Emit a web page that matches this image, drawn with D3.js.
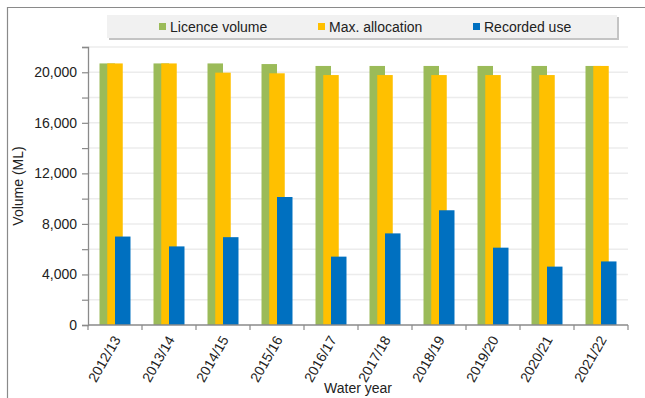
<!DOCTYPE html>
<html>
<head>
<meta charset="utf-8">
<script src="https://cdn.jsdelivr.net/npm/d3@7"></script>
<style>
    body { margin: 0; background: #fff; }
    text { font-family: "Liberation Sans", Arial, sans-serif; fill: #222; }
</style>
</head>
<body>
<svg id="chart"></svg>
<script>
// water years on the x axis
const years = ["2012/13", "2013/14", "2014/15", "2015/16", "2016/17",
    "2017/18", "2018/19", "2019/20", "2020/21", "2021/22"];

// volumes in ML
const licenceVolume = [20700, 20700, 20700, 20650, 20500, 20500, 20500, 20500, 20500, 20500];
const maxAllocation = [20700, 20700, 19970, 19920, 19780, 19780, 19780, 19780, 19780, 20500];
const recordedUse = [7000, 6220, 6950, 10130, 5410, 7250, 9080, 6120, 4620, 5030];

const seriesNames = ["Licence volume", "Max. allocation", "Recorded use"];
const seriesColors = ["#9bbb59", "#ffc000", "#0070c0"];
const yTicks = [0, 2000, 4000, 6000, 8000, 10000, 12000, 14000, 16000, 18000, 20000, 22000];

const W = 645, H = 398;
const margin = { top: 47, right: 17, bottom: 73, left: 88 };
const width = W - margin.left - margin.right;
const height = H - margin.top - margin.bottom;

const svg = d3.select("#chart")
    .attr("width", W)
    .attr("height", H);

// frame of the original picture (only top and left show)
svg.append("path")
    .attr("d", "M7.5," + H + "V7.5H" + W)
    .attr("fill", "none")
    .attr("stroke", "#8a8a8a")
    .attr("stroke-width", 1.2);

const g = svg.append("g")
    .attr("transform", "translate(" + margin.left + "," + margin.top + ")");

let x = d3.scaleBand()
    .domain(years)
    .range([0, width])
    .padding(0);

let y = d3.scaleLinear()
    .domain([0, 22000])
    .range([height, 0]);

// grid
g.append("g")
    .selectAll("line")
    .data(yTicks.filter(function (d) { return d > 0; }))
    .enter().append("line")
    .attr("x1", 0)
    .attr("x2", width)
    .attr("y1", function (d) { return y(d); })
    .attr("y2", function (d) { return y(d); })
    .attr("stroke", "#ececec")
    .attr("stroke-width", 1.5);

// bars, each overlapping the previous one by half
const barW = x.bandwidth() * 0.287;
const groupStart = x.bandwidth() / 2 - barW;
const seriesData = [licenceVolume, maxAllocation, recordedUse];

seriesData.forEach(function (values, s) {
    g.append("g")
        .selectAll("rect")
        .data(values)
        .enter().append("rect")
        .attr("x", function (d, i) { return x(years[i]) + groupStart + s * barW / 2; })
        .attr("y", function (d) { return y(d); })
        .attr("width", barW)
        .attr("height", function (d) { return y(0) - y(d); })
        .attr("fill", seriesColors[s]);
});

// y axis
let yAxis = d3.axisLeft(y)
    .tickValues(yTicks)
    .tickSize(6)
    .tickPadding(5)
    .tickFormat(function (d) { return d % 4000 === 0 ? d3.format(",")(d) : ""; });

const yAxisG = g.append("g").call(yAxis);
yAxisG.select(".domain").attr("stroke", "#8a8a8a").attr("stroke-width", 1.3);
yAxisG.selectAll(".tick line").attr("stroke", "#8a8a8a").attr("stroke-width", 1.2);
yAxisG.selectAll(".tick text").style("font-size", "14px").attr("fill", "#222");

// x axis: ticks on category edges
g.append("line")
    .attr("x1", 0).attr("x2", width)
    .attr("y1", height).attr("y2", height)
    .attr("stroke", "#8a8a8a")
    .attr("stroke-width", 1.5);

g.append("g")
    .selectAll("line")
    .data(years.concat(["end"]))
    .enter().append("line")
    .attr("x1", function (d, i) { return i * x.step(); })
    .attr("x2", function (d, i) { return i * x.step(); })
    .attr("y1", height)
    .attr("y2", height + 5)
    .attr("stroke", "#8a8a8a")
    .attr("stroke-width", 1.2);

g.append("g")
    .selectAll("text")
    .data(years)
    .enter().append("text")
    .attr("transform", function (d) {
        return "translate(" + (x(d) + x.bandwidth() / 2 + 2) + "," + (height + 12) + ") rotate(-60)";
    })
    .attr("text-anchor", "end")
    .attr("dy", "0.35em")
    .style("font-size", "14px")
    .text(function (d) { return d; });

// axis titles
svg.append("text")
    .attr("x", margin.left + width / 2)
    .attr("y", 393)
    .attr("text-anchor", "middle")
    .style("font-size", "14px")
    .text("Water year");

svg.append("text")
    .attr("transform", "translate(23," + (margin.top + height / 2) + ") rotate(-90)")
    .attr("text-anchor", "middle")
    .style("font-size", "14px")
    .text("Volume (ML)");

// legend
const legend = svg.append("g").attr("transform", "translate(107,15)");
legend.append("rect")
    .attr("x", 2).attr("y", 2)
    .attr("width", 510).attr("height", 23)
    .attr("fill", "#c4c4c4");
legend.append("rect")
    .attr("width", 510).attr("height", 23)
    .attr("fill", "#f1f1f1");

const legendX = [52, 211, 366];
const item = legend.selectAll(".item")
    .data(seriesNames)
    .enter().append("g")
    .attr("class", "item")
    .attr("transform", function (d, i) { return "translate(" + legendX[i] + ",0)"; });

item.append("rect")
    .attr("x", 0).attr("y", 8)
    .attr("width", 7).attr("height", 7)
    .attr("fill", function (d, i) { return seriesColors[i]; });

item.append("text")
    .attr("x", 11)
    .attr("y", 17)
    .style("font-size", "14px")
    .text(function (d) { return d; });
</script>
</body>
</html>
